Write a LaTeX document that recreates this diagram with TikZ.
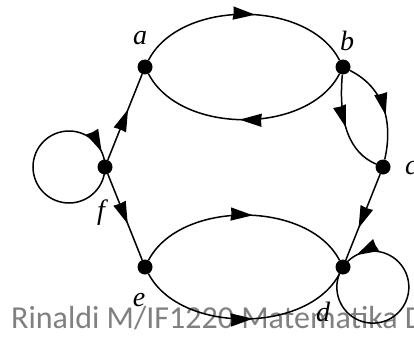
\documentclass[tikz,border=0pt]{standalone}
\usepackage{fontspec}
\setmainfont{Liberation Serif}
\newfontfamily\wmfont{Carlito}
\usetikzlibrary{arrows.meta,decorations.markings}
\tikzset{
  bigtip/.tip={Stealth[length=22pt,width=13pt,inset=0.5pt]},
  dot/.style={circle,fill=black,inner sep=0pt,minimum size=15pt},
  lbl/.style={font=\fontsize{28}{28}\selectfont\itshape,inner sep=0pt},
  edge/.style={line width=1.5pt},
  midarrow/.style={postaction={decorate},decoration={markings,
     mark=at position #1 with {\arrow{bigtip}}}}
}
\begin{document}
\begin{tikzpicture}[x=1pt,y=1pt]
\useasboundingbox (0,0) rectangle (414,338);
% watermark
\node[anchor=base west,inner sep=0pt,text=black!50,font=\wmfont\fontsize{32}{32}\selectfont] (wm) at (11,10) {Rinaldi M/IF1220 Matematika D};
% vertices
\node[dot] (a) at (145,271) {};
\node[dot] (b) at (343,271) {};
\node[dot] (c) at (383,171) {};
\node[dot] (d) at (343,71) {};
\node[dot] (e) at (145,71) {};
\node[dot] (f) at (105,171) {};
% labels
\node[lbl] (la) at (140,300) {a};
\node[lbl] (lb) at (347,297) {b};
\node[lbl,anchor=west] (lc) at (405,170) {c};
\node[lbl] (lf) at (101,125) {f};
\node[lbl] (le) at (139,38) {e};
\node[lbl] (ld) at (323,26) {d};
% edges
\draw[edge,midarrow=0.55] (a) .. controls +(35,68) and +(-35,68) .. (b);
\draw[edge,midarrow=0.52] (b) .. controls +(-35,-68) and +(35,-68) .. (a);
\draw[edge,midarrow=0.54] (e) .. controls +(35,67) and +(-35,67) .. (d);
\draw[edge,midarrow=0.54] (e) .. controls +(35,-67) and +(-35,-67) .. (d);
\draw[edge,midarrow=0.57] (b) .. controls (385,250) and (393,215) .. (c);
\draw[edge,midarrow=0.52] (b) .. controls (338,215) and (350,185) .. (c);
\draw[edge,midarrow=0.63] (c) -- (d);
\draw[edge,midarrow=0.59] (f) -- (a);
\draw[edge,midarrow=0.58] (f) -- (e);
\draw[edge,midarrow=0.93] (f.center) arc[start angle=0,delta angle=-360,radius=36];
\draw[edge,midarrow=0.92] (d.center) arc[start angle=146,delta angle=360,radius=36];
\end{tikzpicture}
\end{document}
